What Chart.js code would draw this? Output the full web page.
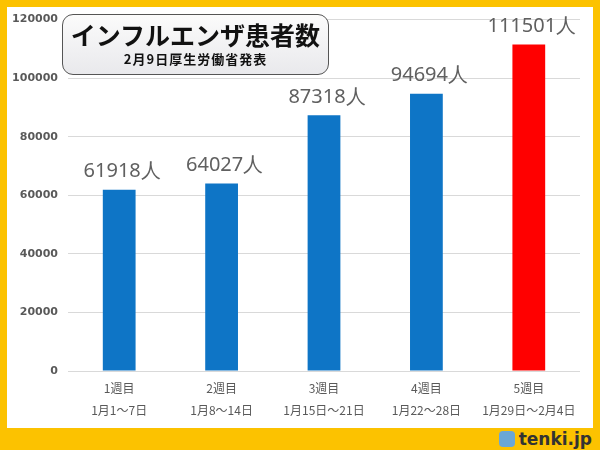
<!DOCTYPE html>
<html>
<head>
<meta charset="utf-8">
<script src="https://cdn.jsdelivr.net/npm/chart.js@4"></script>
<style>
  html, body { margin: 0; padding: 0; }
  body { width: 600px; height: 450px; background: #fcc200; position: relative; overflow: hidden;
         font-family: "Noto Sans CJK JP", "Noto Sans", sans-serif; }
  #panel { position: absolute; left: 7px; top: 7px; width: 586px; height: 421px; background: #fff; }
  #chart { position: absolute; left: 0; top: -4px; }
  #titleBox { position: absolute; left: 55px; top: 7px; width: 265px; height: 59px; border: 1px solid #555;
              border-radius: 11px; background: linear-gradient(#fbfbfb, #e9e9ec); text-align: center; }
  #titleBox .t1 { font-weight: bold; font-size: 25px; line-height: 26px; margin-top: 6px; color: #111; }
  #titleBox .t2 { font-weight: bold; font-size: 13px; line-height: 16px; margin-top: 4px; color: #111; letter-spacing: 1px; }
  #logo { position: absolute; right: 8px; top: 429px; font: bold 17px "DejaVu Sans", sans-serif; color: #333; }
  #logo span { display: inline-block; width: 16px; height: 16px; border-radius: 4px; background: #6aa7d6;
               vertical-align: -2px; margin-right: 4px; }
</style>
</head>
<body>
<div id="panel">
  <canvas id="chart" width="586" height="425"></canvas>
  <div id="titleBox">
    <div class="t1">インフルエンザ患者数</div>
    <div class="t2">2月9日厚生労働省発表</div>
  </div>
</div>
<div id="logo"><span></span>tenki.jp</div>
<script>
  const weeks  = ['1週目', '2週目', '3週目', '4週目', '5週目'];
  const ranges = ['1月1～7日', '1月8～14日', '1月15日～21日', '1月22～28日', '1月29日～2月4日'];
  const patients = [61918, 64027, 87318, 94694, 111501];
  const yTicks = [0, 20000, 40000, 60000, 80000, 100000, 120000];
  const barColors = ['#0e75c6', '#0e75c6', '#0e75c6', '#0e75c6', '#ff0000'];

  const valueLabels = {
    id: 'valueLabels',
    afterDatasetsDraw(chart) {
      const { ctx } = chart;
      const meta = chart.getDatasetMeta(0);
      ctx.save();
      ctx.font = '20px "Noto Sans", "DejaVu Sans", sans-serif';
      ctx.fillStyle = '#606060';
      ctx.textAlign = 'center';
      ctx.textBaseline = 'bottom';
      meta.data.forEach((bar, i) => {
        ctx.fillText(patients[i] + '人', bar.x + 3, bar.y - 8);
      });
      ctx.restore();
    }
  };

  new Chart(document.getElementById('chart'), {
    type: 'bar',
    data: {
      labels: weeks.map((w, i) => [w, ranges[i]]),
      datasets: [{
        data: patients,
        backgroundColor: barColors,
        barPercentage: 0.64,
        categoryPercentage: 0.5
      }]
    },
    options: {
      responsive: false,
      animation: false,
      layout: { padding: { top: 0, right: 13, left: 0, bottom: 9 } },
      plugins: { legend: { display: false }, tooltip: { enabled: false } },
      scales: {
        y: {
          min: yTicks[0], max: yTicks[yTicks.length - 1],
          afterBuildTicks(axis) { axis.ticks = yTicks.map(v => ({ value: v })); },
          ticks: { padding: 10, color: '#595959', callback: v => String(v),
                   font: { size: 11, weight: 'bold', family: '"DejaVu Sans", sans-serif' } },
          grid: { color: '#d9d9d9', drawTicks: false },
          border: { display: false },
          afterFit(axis) { axis.width = 61; }
        },
        x: {
          ticks: { padding: -2, color: '#595959',
                   font: { size: 12, family: '"Noto Sans CJK JP", sans-serif', lineHeight: 1.83 } },
          grid: { display: false },
          border: { display: false }
        }
      }
    },
    plugins: [valueLabels]
  });
</script>
</body>
</html>
